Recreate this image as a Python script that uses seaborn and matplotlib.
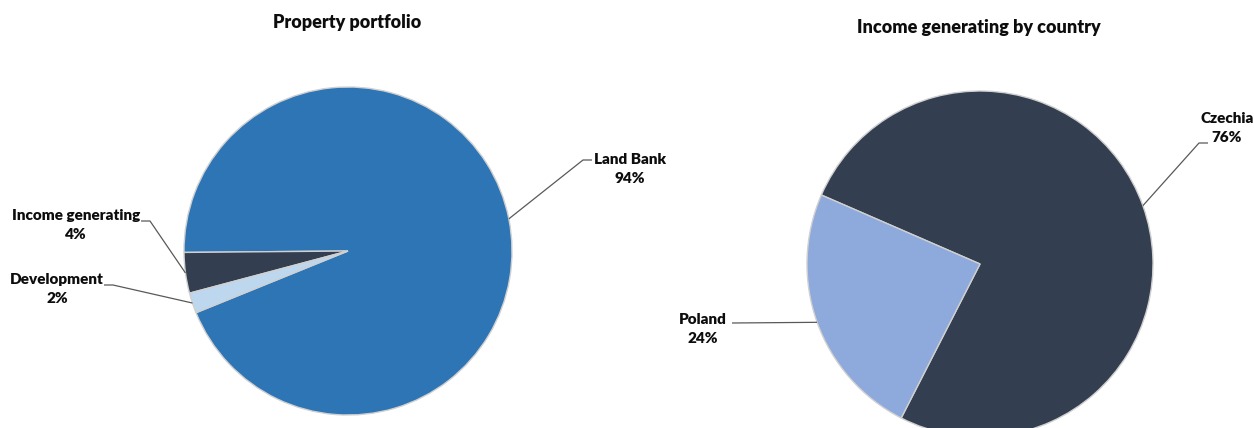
import matplotlib
matplotlib.use("Agg")
import matplotlib.pyplot as plt
import numpy as np
import seaborn as sns

# Property portfolio split
portfolio_labels = ["Land Bank", "Income generating", "Development"]
portfolio_values = [94, 4, 2]
portfolio_colors = ["#2E75B6", "#333F50", "#BDD7EE"]

# Income generating assets by country
country_labels = ["Czechia", "Poland"]
country_values = [76, 24]
country_colors = ["#333F50", "#8EA9DB"]

sns.set_theme(style="white")
plt.rcParams["font.family"] = ["Lato", "DejaVu Sans"]

W, H = 1254, 428
fig = plt.figure(figsize=(W / 100, H / 100), dpi=100)
ax = fig.add_axes([0, 0, 1, 1])


def sy(y):
    """Convert a top-down pixel row into the axis' bottom-up coordinate."""
    return H - y


def draw_pie(values, colors, center, radius, start):
    wedges, _ = ax.pie(values, colors=colors, startangle=start, counterclock=True,
                       center=center, radius=radius, frame=True,
                       wedgeprops=dict(edgecolor="#D0D0D0", linewidth=1.0))
    return wedges


def leader(wedge, center, radius, elbow, end, text_xy, text):
    theta = np.deg2rad((wedge.theta1 + wedge.theta2) / 2)
    ex = center[0] + radius * np.cos(theta)
    ey = center[1] + radius * np.sin(theta)
    ax.plot([ex, elbow[0], end[0]], [ey, sy(elbow[1]), sy(end[1])],
            color="#595959", lw=0.9, solid_capstyle="butt", zorder=5)
    ax.text(text_xy[0], sy(text_xy[1]), text, ha="center", va="center",
            fontsize=11, fontweight="heavy", color="#0D0D0D", linespacing=1.5)


# Left pie: property portfolio
c1, r1 = (348, sy(251)), 164
w1 = draw_pie(portfolio_values, portfolio_colors, c1, r1, 202.1)
leader(w1[0], c1, r1, (583, 160), (592, 160), (630, 169),
       f"{portfolio_labels[0]}\n{portfolio_values[0]}%")
leader(w1[1], c1, r1, (150, 221), (141, 221), (76, 225),
       f"{portfolio_labels[1]}\n{portfolio_values[1]}%")
leader(w1[2], c1, r1, (113, 285), (104, 285), (57, 289),
       f"{portfolio_labels[2]}\n{portfolio_values[2]}%")
ax.text(347, sy(22), "Property portfolio", ha="center", va="center",
        fontsize=13, fontweight="heavy", color="#0D0D0D")

# Right pie: income generating by country
c2, r2 = (980, sy(264)), 173
w2 = draw_pie(country_values, country_colors, c2, r2, 242.9)
leader(w2[0], c2, r2, (1199, 143), (1208, 143), (1227, 128),
       f"{country_labels[0]}\n{country_values[0]}%")
leader(w2[1], c2, r2, (732, 323), (732, 323), (703, 329),
       f"{country_labels[1]}\n{country_values[1]}%")
ax.text(979, sy(27), "Income generating by country", ha="center", va="center",
        fontsize=13, fontweight="heavy", color="#0D0D0D")

ax.set_xlim(0, W)
ax.set_ylim(0, H)
ax.set_aspect("equal", adjustable="box")
ax.set_axis_off()

fig.savefig("out.png", dpi=100, facecolor="white")
